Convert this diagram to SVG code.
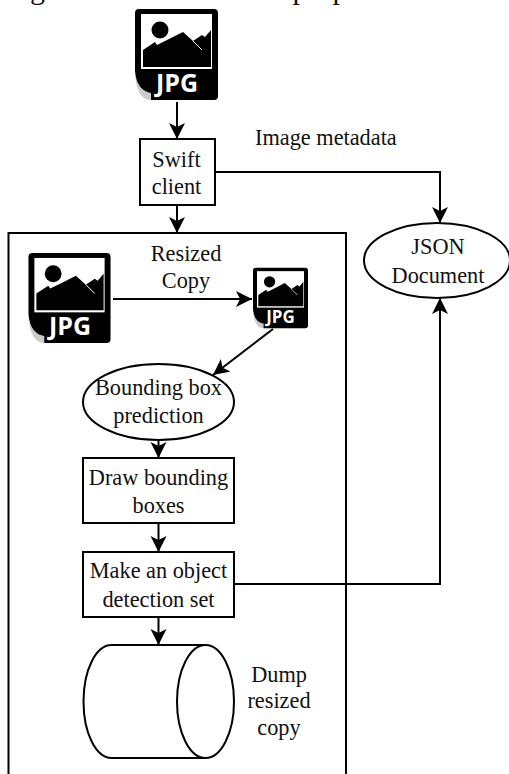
<svg xmlns="http://www.w3.org/2000/svg" xmlns:xlink="http://www.w3.org/1999/xlink" width="509" height="774" viewBox="0 0 509 774">
<style>
.s{fill:#fff;stroke:#000;stroke-width:2}
.e{fill:none;stroke:#000;stroke-width:2}
.t{font-family:"Liberation Serif","Times New Roman",serif;font-size:22.300px;fill:#111;text-anchor:middle}
.j{font-family:"Open Sans","Liberation Sans",sans-serif;font-weight:700;fill:#fff;text-anchor:middle}
</style>
<defs>
<marker id="a" markerUnits="userSpaceOnUse" markerWidth="18" markerHeight="18" viewBox="0 -9 18 18" refX="16" refY="0" orient="auto"><path d="M0,-8L16,0L0,8L4,0Z" fill="#000"/></marker>
<symbol id="icon" viewBox="0 0 83 91">
<path d="M0,60C0,78 5,91 16,91H24V70H0Z" fill="#ccc"/>
<path d="M4,0H79Q83,0 83,4V87Q83,91 79,91H16V84C8,83 1,76 0,62V4Q0,0 4,0Z" fill="#000"/>
<rect x="6" y="5" width="71" height="55" fill="#fff"/>
<circle cx="25" cy="21" r="8.500" fill="#000"/>
<path d="M8,41L20,33L22,36L32,31L48,23L58,32L67,26L70,28L76,21V58H8Z" fill="#000"/>
<path d="M58,32L67,41" stroke="#fff" stroke-width="1" fill="none"/>
</symbol>
</defs>
<text class="t" x="5" y="-1" style="font-size:30px;text-anchor:start">Fig. 5. Overview of the proposed architecture</text>
<g id="connectors" class="e">
<path class="e" marker-end="url(#a)" d="M177,102V139"/>
<path class="e" marker-end="url(#a)" d="M177,205V233"/>
<path class="e" marker-end="url(#a)" d="M215,172H440V223"/>
<path class="e" marker-end="url(#a)" d="M113,299H252"/>
<path class="e" marker-end="url(#a)" d="M273,329L213,375"/>
<path class="e" marker-end="url(#a)" d="M158.500,440V458"/>
<path class="e" marker-end="url(#a)" d="M158.500,523V552"/>
<path class="e" marker-end="url(#a)" d="M158.500,617V645"/>
<path class="e" marker-end="url(#a)" d="M234,584H440V298"/>
</g>
<g id="container"><path class="e" d="M8.500,774V233H346V774"/></g>
<g id="jpg-source"><use xlink:href="#icon" href="#icon" x="135" y="9" width="83" height="91"/><text class="j" x="177" y="92" font-size="25">JPG</text></g>
<g id="swift-client"><rect class="s" x="140" y="139" width="75" height="66"/><text class="t" x="176.500" y="167">Swift</text><text class="t" x="176.500" y="194">client</text></g>
<g id="image-metadata"><text class="t" x="255" y="145" style="text-anchor:start">Image metadata</text></g>
<g id="json-document"><ellipse class="s" cx="437" cy="260.500" rx="73" ry="37.500"/><text class="t" x="438" y="254">JSON</text><text class="t" x="438" y="283">Document</text></g>
<g id="jpg-original"><use xlink:href="#icon" href="#icon" x="28" y="253" width="83" height="90"/><text class="j" x="70" y="335" font-size="25">JPG</text></g>
<g id="resized-copy"><text class="t" x="186" y="261">Resized</text><text class="t" x="186" y="288">Copy</text></g>
<g id="jpg-resized"><use xlink:href="#icon" href="#icon" x="253" y="267" width="55" height="62"/><text class="j" x="280.500" y="323" font-size="17">JPG</text></g>
<g id="bounding-box-prediction"><ellipse class="s" cx="158.500" cy="402" rx="75.500" ry="38"/><text class="t" x="158.500" y="395">Bounding box</text><text class="t" x="158.500" y="423">prediction</text></g>
<g id="draw-bounding-boxes"><rect class="s" x="83" y="458" width="151" height="65"/><text class="t" x="158.500" y="485">Draw bounding</text><text class="t" x="158.500" y="513">boxes</text></g>
<g id="object-detection-set"><rect class="s" x="83" y="552" width="151" height="65"/><text class="t" x="158.500" y="578">Make an object</text><text class="t" x="158.500" y="607">detection set</text></g>
<g id="dump-cylinder"><path class="s" d="M205.500,645H111.500C96,645 83.500,670 83.500,701.500C83.500,733 96,758 111.500,758H205.500"/><ellipse class="s" cx="205.500" cy="701.500" rx="28.500" ry="56.500"/></g>
<g id="dump-resized-copy"><text class="t" x="279" y="682">Dump</text><text class="t" x="279" y="708">resized</text><text class="t" x="279" y="735">copy</text></g>
</svg>
